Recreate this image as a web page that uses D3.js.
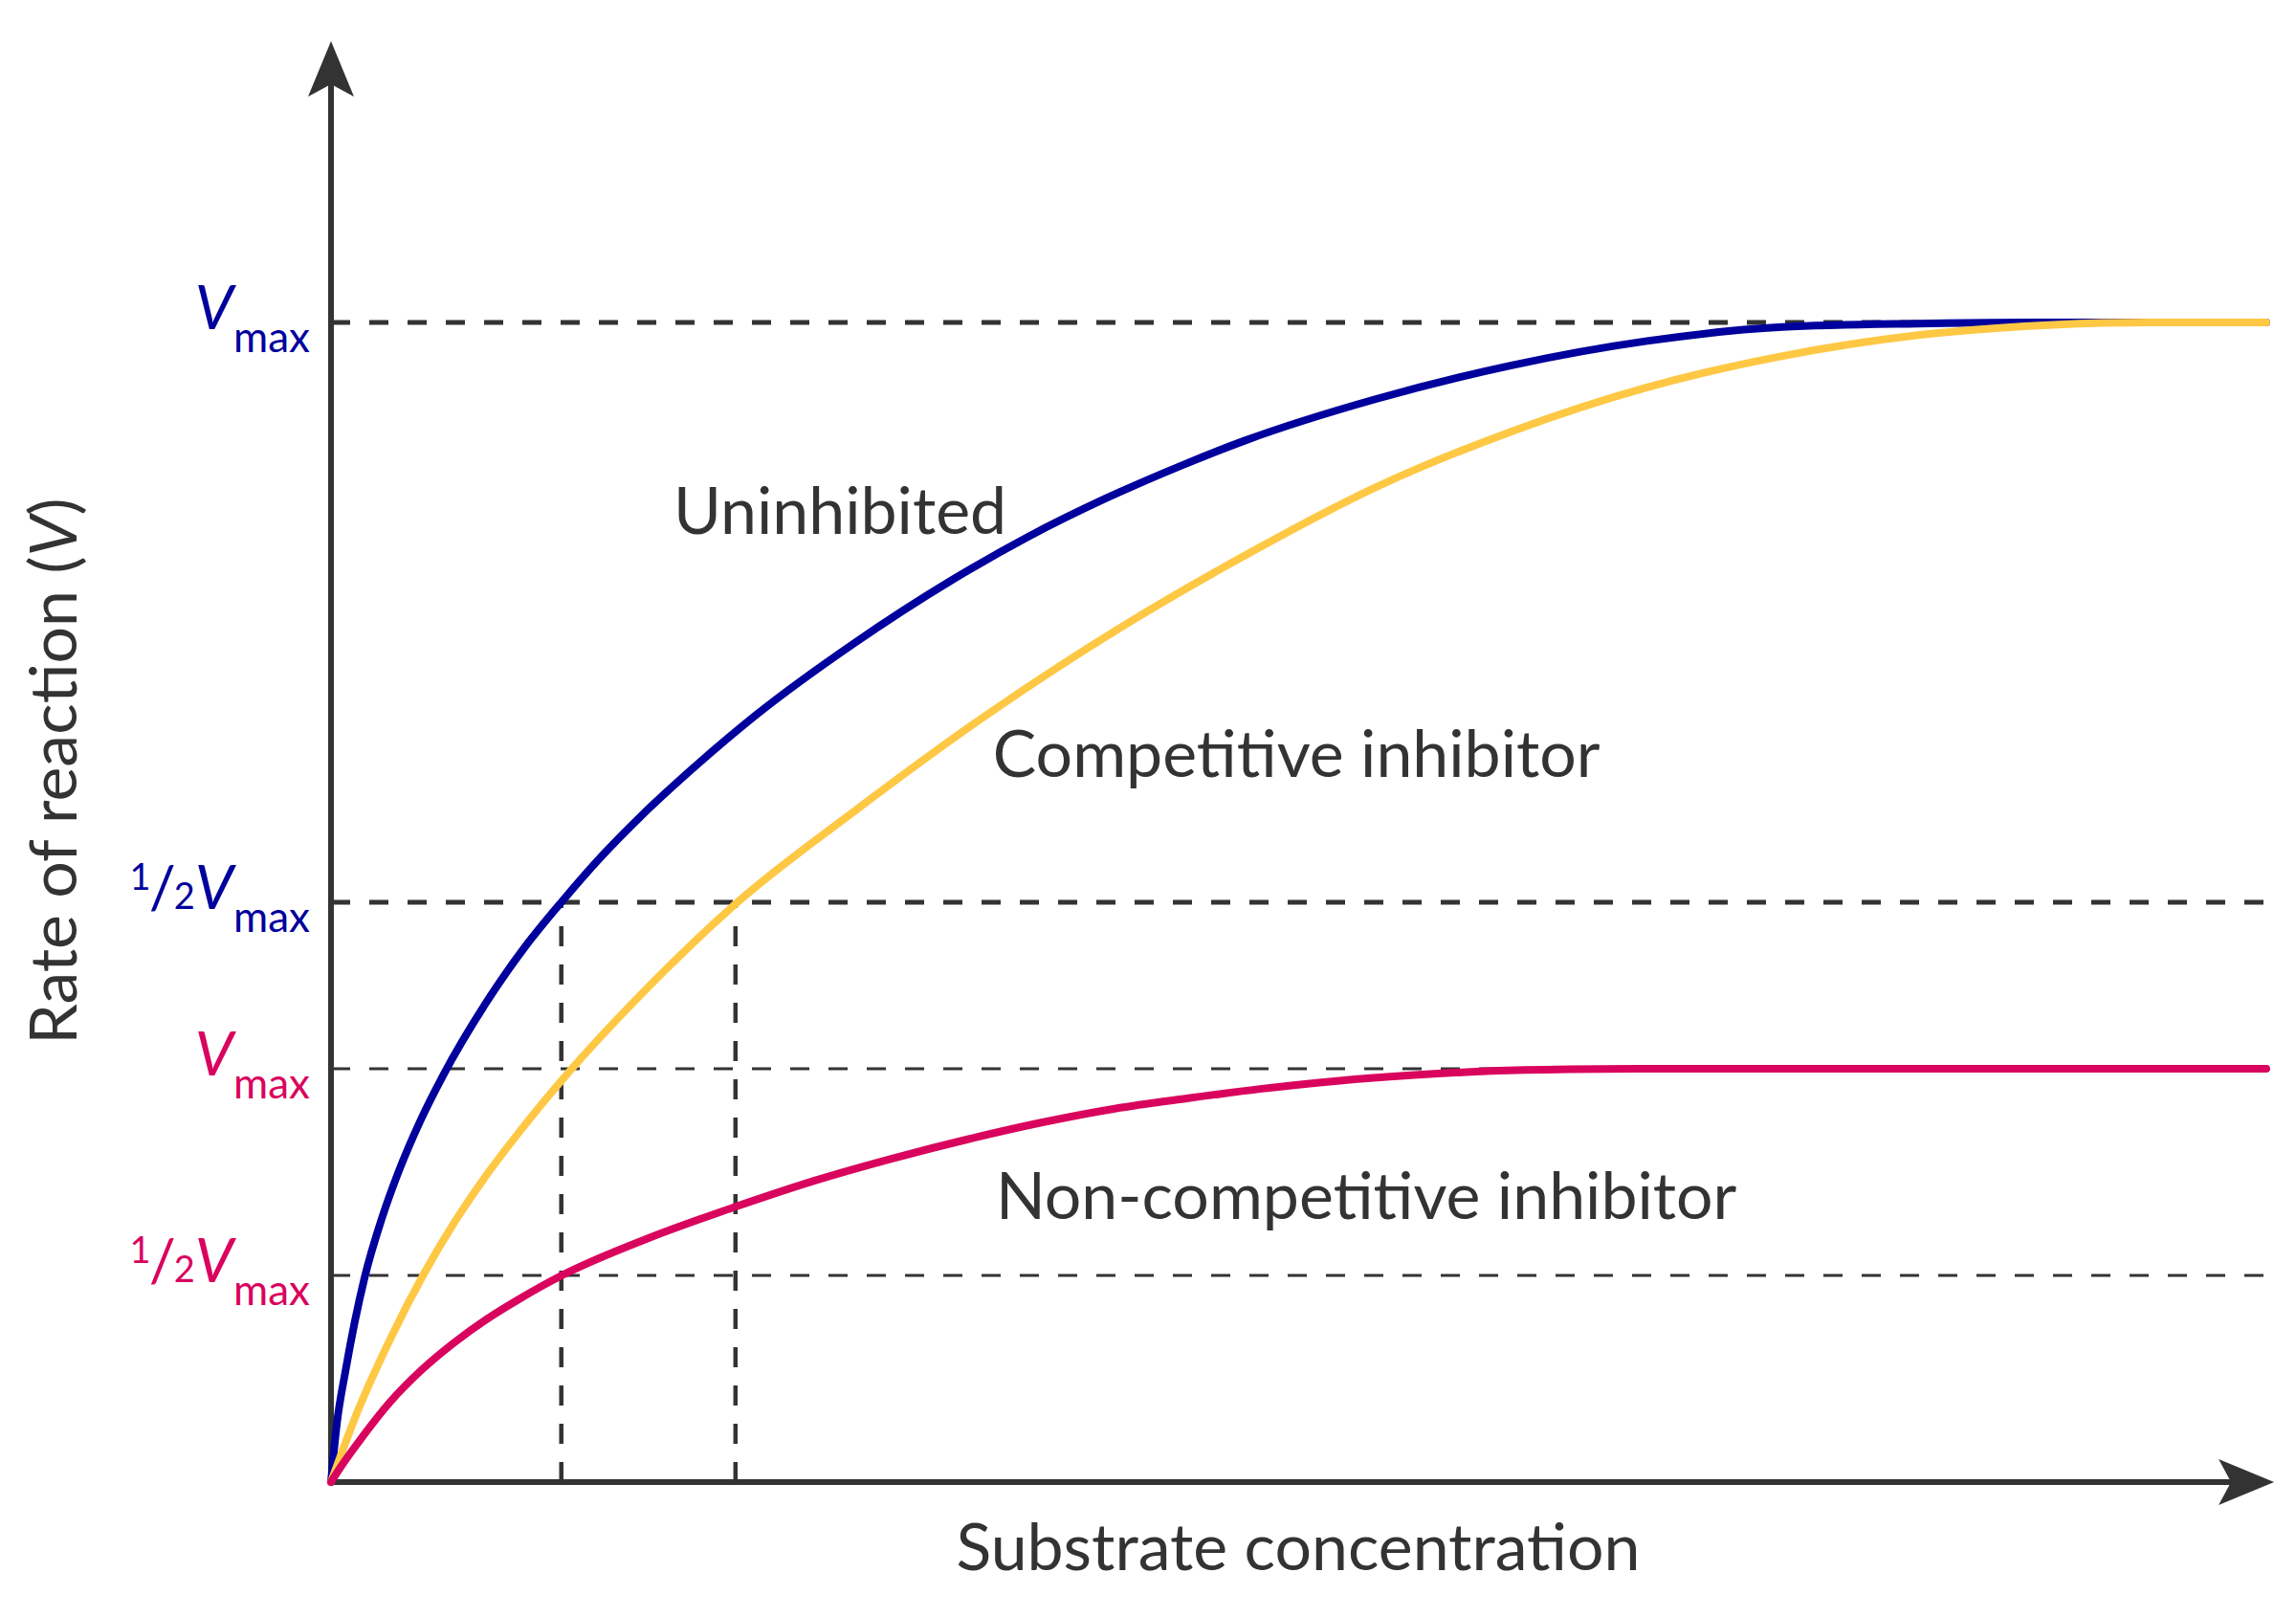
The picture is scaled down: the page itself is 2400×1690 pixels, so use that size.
<!DOCTYPE html>
<html>
<head>
<meta charset="utf-8">
<script src="https://cdn.jsdelivr.net/npm/d3@7"></script>
<style>
  body { margin: 0; background: #fff; }
  svg text { font-family: Lato, 'Open Sans', sans-serif; fill: #333; }
  .ref { fill: none; stroke: #333; }
  .curve { fill: none; stroke-width: 8; stroke-linecap: round; stroke-linejoin: round; }
  .axis { fill: none; stroke: #333; stroke-width: 6; }
  .arrow { fill: #333; stroke: none; }
</style>
</head>
<body>
<script>

// substrate concentration (arbitrary units 0-100) against rate as a fraction of Vmax
const uninhibited = [
  [0, 0], [0.3, 0.05], [0.75, 0.096], [1.73, 0.176], [2.6, 0.226], [3.5, 0.268],
  [4.6, 0.311], [5.77, 0.35], [8, 0.413], [10, 0.461], [11.9, 0.5], [14, 0.54],
  [16, 0.574], [18.6, 0.614], [22, 0.662], [27, 0.723], [32, 0.777], [36, 0.815],
  [40, 0.848], [44, 0.877], [47.2, 0.898], [54, 0.934], [61, 0.963], [68, 0.984],
  [75, 0.996], [82, 0.999], [88, 1], [100, 1]
]
const competitive = [
  [0, 0], [1.4, 0.062], [3.05, 0.123], [4.78, 0.179], [6.34, 0.223], [8, 0.264],
  [9.64, 0.3], [11.9, 0.346], [16.4, 0.427], [21, 0.5], [27, 0.578], [34, 0.663],
  [41, 0.739], [47, 0.797], [54, 0.858], [61, 0.906], [68, 0.944], [75, 0.971],
  [82, 0.989], [89, 0.998], [94, 1], [100, 1]
]
const nonCompetitive = [
  [0, 0], [0.5, 0.013], [1.4, 0.034], [3.05, 0.069], [4.7, 0.097], [6.34, 0.12],
  [8, 0.14], [9.64, 0.157], [11.9, 0.178], [16.5, 0.211], [21, 0.238], [25, 0.26],
  [29, 0.279], [33, 0.296], [36.7, 0.31], [40.5, 0.322], [44.3, 0.331], [48, 0.339],
  [52, 0.346], [56, 0.351], [60, 0.3545], [64, 0.356], [67.4, 0.3564], [100, 0.3564]
]

const vmax = 1
const vmaxNonComp = 0.3564
const km = 11.9
const kmApparent = 20.9

const curveNames = ['Uninhibited', 'Competitive inhibitor', 'Non-competitive inhibitor']
const xTitle = 'Substrate concentration'
const yTitle = 'Rate of reaction ('

const width = 2400
const height = 1690
const margin = { top: 337, right: 31, bottom: 141, left: 346 }

const svg = d3.select('body').append('svg')
  .attr('width', width)
  .attr('height', height)

const xScale = d3.scaleLinear()
  .domain([0, 100])
  .range([margin.left, width - margin.right])

const yScale = d3.scaleLinear()
  .domain([0, vmax])
  .range([height - margin.bottom, margin.top])

const blue = '#00009c'
const yellow = '#fec844'
const red = '#d9045d'

// dashed guide lines
const hLines = [
  { v: vmax, w: 5 },
  { v: vmax / 2, w: 5 },
  { v: vmaxNonComp, w: 3 },
  { v: vmaxNonComp / 2, w: 3 }
]

svg.selectAll('.h-ref')
  .data(hLines)
  .enter()
  .append('line')
  .attr('class', 'ref h-ref')
  .attr('x1', xScale(0))
  .attr('x2', xScale(100))
  .attr('y1', d => yScale(d.v))
  .attr('y2', d => yScale(d.v))
  .attr('stroke-width', d => d.w)
  .attr('stroke-dasharray', '20 20')

svg.selectAll('.v-ref')
  .data([km, kmApparent])
  .enter()
  .append('line')
  .attr('class', 'ref v-ref')
  .attr('x1', d => xScale(d))
  .attr('x2', d => xScale(d))
  .attr('y1', yScale(0))
  .attr('y2', yScale(vmax / 2))
  .attr('stroke-width', 4.5)
  .attr('stroke-dasharray', '21 19')

// axes with arrow heads
const x0 = xScale(0)
const y0 = yScale(0)
const xEnd = xScale(100.4)
const yEnd = yScale(1.2425)
const headLen = 58
const headHalf = 24
const notch = 13

svg.append('line')
  .attr('class', 'axis')
  .attr('x1', x0).attr('y1', y0 + 3)
  .attr('x2', x0).attr('y2', yEnd + headLen - notch)

svg.append('line')
  .attr('class', 'axis')
  .attr('x1', x0 - 3).attr('y1', y0)
  .attr('x2', xEnd - headLen + notch).attr('y2', y0)

svg.append('path')
  .attr('class', 'arrow')
  .attr('d', `M${x0},${yEnd} L${x0 + headHalf},${yEnd + headLen} L${x0},${yEnd + headLen - notch} L${x0 - headHalf},${yEnd + headLen} Z`)

svg.append('path')
  .attr('class', 'arrow')
  .attr('d', `M${xEnd},${y0} L${xEnd - headLen},${y0 - headHalf} L${xEnd - headLen + notch},${y0} L${xEnd - headLen},${y0 + headHalf} Z`)

// curves
const line = d3.line()
  .x(d => xScale(d[0]))
  .y(d => yScale(d[1]))
  .curve(d3.curveMonotoneX)

const series = [
  { values: uninhibited, color: blue },
  { values: competitive, color: yellow },
  { values: nonCompetitive, color: red }
]

svg.selectAll('.curve')
  .data(series)
  .enter()
  .append('path')
  .attr('class', 'curve')
  .attr('stroke', d => d.color)
  .attr('d', d => line(d.values))

// curve labels
const labelPos = [[17.7, 0.818], [34.2, 0.608], [34.35, 0.227]]

svg.selectAll('.curve-label')
  .data(curveNames)
  .enter()
  .append('text')
  .attr('class', 'curve-label')
  .attr('x', (d, i) => xScale(labelPos[i][0]))
  .attr('y', (d, i) => yScale(labelPos[i][1]))
  .style('font-size', '68px')
  .text(d => d)

// axis titles
svg.append('text')
  .attr('x', xScale(32.3))
  .attr('y', yScale(-0.076))
  .style('font-size', '68px')
  .text(xTitle)

const yt = svg.append('text')
  .attr('transform', `translate(80, ${yScale(0.613)}) rotate(-90)`)
  .attr('text-anchor', 'middle')
  .style('font-size', '68px')
yt.append('tspan').text(yTitle)
yt.append('tspan').style('font-style', 'italic').text('V')
yt.append('tspan').text(')')

// tick-like labels on the y axis
const tickLabels = [
  { v: vmax, half: false, color: blue },
  { v: vmax / 2, half: true, color: blue },
  { v: vmaxNonComp, half: false, color: red },
  { v: vmaxNonComp / 2, half: true, color: red }
]

tickLabels.forEach(t => {
  const txt = svg.append('text')
    .attr('x', x0 - 22)
    .attr('y', yScale(t.v) + 7)
    .attr('text-anchor', 'end')
  if (t.half) {
    txt.append('tspan').attr('dy', -20).style('font-size', '38px').style('fill', t.color).text('1')
    txt.append('tspan').attr('dy', 20).attr('dx', -2).style('font-size', '62px').style('fill', t.color).text('/')
    txt.append('tspan').attr('dx', -2).style('font-size', '38px').style('fill', t.color).text('2')
  }
  txt.append('tspan').style('font-size', '64px').style('font-style', 'italic').style('fill', t.color).text('V')
  txt.append('tspan').attr('dy', 24).style('font-size', '44px').style('fill', t.color).text('max')
})

</script>
</body>
</html>
